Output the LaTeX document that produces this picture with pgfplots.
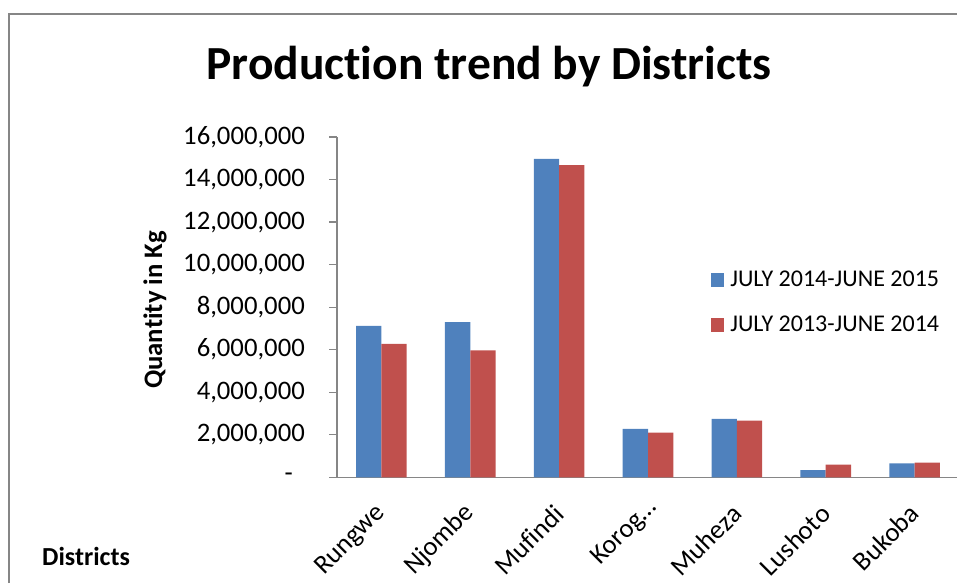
\documentclass[border=0pt]{standalone}
\usepackage{pgfplots}
\pgfplotsset{compat=1.18}
\usepackage{fontspec}
\setmainfont{Carlito}[Ligatures=NoCommon]
\definecolor{xblue}{HTML}{4F81BD}
\definecolor{xred}{HTML}{C0504D}
\definecolor{axgray}{HTML}{868686}
\begin{document}
\begin{tikzpicture}[x=1pt,y=1pt]
\useasboundingbox (0,0) rectangle (957,583);
\draw[axgray,line width=1.5pt] (9,0) -- (9,569) -- (960,569);
\node[anchor=base,font=\fontsize{47.5}{56}\selectfont\bfseries] at (489,503) {Production trend by Districts};
\node[rotate=90,font=\fontsize{26.7}{32}\selectfont\bfseries] at (155,273) {Quantity in Kg};
\node[anchor=base west,inner sep=0pt,font=\fontsize{26}{31}\selectfont\bfseries] at (42,18) {Districts};
\begin{axis}[
  at={(337pt,105.7pt)}, anchor=south west,
  scale only axis, width=622pt, height=340.3pt,
  xmin=-0.5, xmax=6.5, ymin=0, ymax=16000000,
  scaled y ticks=false,
  axis x line=bottom, axis y line=left,
  axis line style={axgray,line width=1.2pt,-},
  every tick/.style={axgray,line width=1.2pt},
  tick align=outside,
  major tick length=8pt,
  ybar=0pt, bar width=25.3pt,
  xtick={0,...,6},
  xticklabels={Rungwe,Njombe,Mufindi,Korog…\hspace*{-8pt},Muheza,Lushoto,Bukoba},
  major x tick style={draw=none},
  extra x ticks={-0.5,0.5,1.5,2.5,3.5,4.5,5.5,6.5},
  extra x tick labels={},
  extra x tick style={tick style={axgray,line width=1.2pt}},
  x tick label style={rotate=45,anchor=east,inner sep=0pt,font=\fontsize{26.7}{32}\selectfont},
  xticklabel shift=24pt,
  ytick={0,2000000,4000000,6000000,8000000,10000000,12000000,14000000,16000000},
  yticklabels={{-\hspace*{12pt}},{2,000,000},{4,000,000},{6,000,000},{8,000,000},{10,000,000},{12,000,000},{14,000,000},{16,000,000}},
  y tick label style={font=\fontsize{26.7}{32}\selectfont,inner sep=0pt},
  yticklabel shift=24pt,
  legend style={at={(0.596,0.514)},anchor=west,draw=none,fill=none,
    font=\fontsize{24}{29}\selectfont, row sep=28pt,
    nodes={inner sep=0pt}},
  legend cell align=left,
  legend image code/.code={\fill[#1,draw=none] (0pt,-6.7pt) rectangle (13.4pt,6.7pt);\path (19.5pt,0pt);},
]
\addplot[fill=xblue,draw=none] coordinates {(0,7120000) (1,7290000) (2,14970000) (3,2280000) (4,2750000) (5,340000) (6,660000)};
\addplot[fill=xred,draw=none] coordinates {(0,6270000) (1,5970000) (2,14680000) (3,2100000) (4,2670000) (5,600000) (6,690000)};
\legend{JULY 2014-JUNE 2015,JULY 2013-JUNE 2014}
\end{axis}
\end{tikzpicture}
\end{document}
